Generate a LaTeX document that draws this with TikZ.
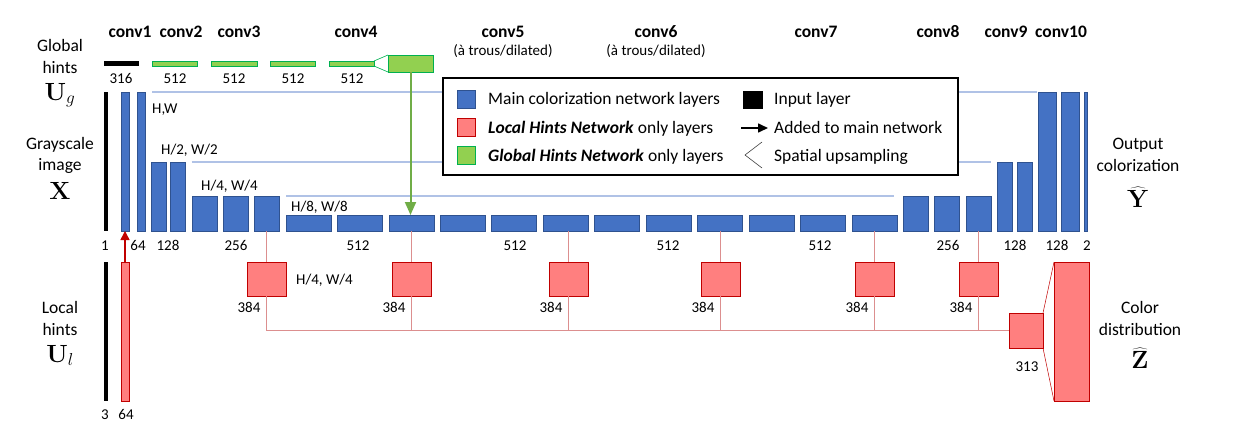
\documentclass[tikz,border=0pt]{standalone}
\usepackage[no-math]{fontspec}
\setmainfont{Carlito}
\usetikzlibrary{arrows.meta}
\definecolor{mainblue}{HTML}{4472C4}
\definecolor{mainblueline}{HTML}{2F528F}
\definecolor{hintred}{HTML}{FF7F7F}
\definecolor{hintredline}{HTML}{C00000}
\definecolor{hintgreen}{HTML}{92D050}
\definecolor{hintgreenline}{HTML}{00B050}
\definecolor{arrowgreen}{HTML}{70AD47}
\definecolor{skipblue}{HTML}{B0C2E6}
\definecolor{linkred}{HTML}{DC8F8F}
\newcommand\mklayer[6]{\node[#2, minimum width={#5-#3}, minimum height={#6-#4}] (#1) at ({(#3+#5)/2},{(#4+#6)/2}) {};}
\tikzset{
  mainlayer/.style={draw=mainblueline, fill=mainblue, line width=0.8pt, inner sep=0pt, outer sep=0pt},
  locallayer/.style={draw=hintredline, fill=hintred, line width=0.9pt, inner sep=0pt, outer sep=0pt},
  globallayer/.style={draw=hintgreenline, fill=hintgreen, line width=0.8pt, inner sep=0pt, outer sep=0pt},
  inputlayer/.style={fill=black, inner sep=0pt, outer sep=0pt},
  skip/.style={draw=skipblue, line width=1.3pt},
  link/.style={draw=linkred, line width=1.2pt},
  num/.style={font=\fontsize{15}{18}\selectfont, anchor=base, inner sep=0pt},
  dimlabel/.style={num, anchor=base west},
  convlabel/.style={font=\fontsize{17.5}{21}\selectfont\bfseries, anchor=base, inner sep=0pt},
  sidelabel/.style={font=\fontsize{17.5}{21}\selectfont, anchor=base, inner sep=0pt},
  mathlabel/.style={font=\fontsize{24}{28}\selectfont, anchor=base, inner sep=0pt},
  legendtext/.style={font=\fontsize{17.5}{21}\selectfont, anchor=base west, inner sep=0pt},
}
\begin{document}
\begin{tikzpicture}[x=1pt, y=-1pt]
\useasboundingbox (0,0) rectangle (1239,434);
% ---------- main network ----------
\mklayer{in1}{inputlayer}{104}{92}{107.5}{231}
\mklayer{b1}{mainlayer}{121}{92}{129}{231}
\mklayer{b2}{mainlayer}{137}{92}{145}{231}
\mklayer{c2a}{mainlayer}{151}{162}{166}{231}
\mklayer{c2b}{mainlayer}{170.5}{162}{185.5}{231}
\mklayer{c3a}{mainlayer}{192}{196}{217}{231}
\mklayer{c3b}{mainlayer}{223}{196}{248}{231}
\mklayer{c3c}{mainlayer}{254}{196}{279}{231}
\foreach \i in {0,...,11}{
  \pgfmathsetmacro\xl{286+51.45*\i}
  \mklayer{m\i}{mainlayer}{\xl}{215}{\xl+45}{231}
}
\mklayer{c8a}{mainlayer}{903}{196}{928}{231}
\mklayer{c8b}{mainlayer}{934.5}{196}{959.5}{231}
\mklayer{c8c}{mainlayer}{966}{196}{991}{231}
\mklayer{c9a}{mainlayer}{997}{162}{1012}{231}
\mklayer{c9b}{mainlayer}{1017}{162}{1032}{231}
\mklayer{c10a}{mainlayer}{1038}{92}{1056}{231}
\mklayer{c10b}{mainlayer}{1061}{92}{1079}{231}
\mklayer{c10c}{mainlayer}{1084.5}{92}{1087.5}{231}
% skip connections
\draw[skip] ([xshift=7pt]b2.north east) -- ([xshift=-1pt]c10a.north west);
\draw[skip] ([xshift=6pt]c2b.north east) -- ([xshift=-6pt]c9a.north west);
\draw[skip] ([xshift=7pt]c3c.north east) -- ([xshift=-9pt]c8a.north west);
% ---------- global hints ----------
\mklayer{gin}{inputlayer}{104}{61}{139}{65.5}
\mklayer{g1}{globallayer}{152}{61}{197}{66}
\mklayer{g2}{globallayer}{211}{61}{257}{66}
\mklayer{g3}{globallayer}{270}{61}{315}{66}
\mklayer{g4}{globallayer}{329}{61}{374}{66}
\mklayer{gbox}{globallayer}{388}{55}{433}{72}
\draw[hintgreenline, line width=0.6pt] (g4.north east) -- (gbox.north west) (g4.south east) -- (gbox.south west);
\draw[arrowgreen, line width=2pt, -{Triangle[length=13pt,width=11pt]}] (gbox.south) -- (gbox.south |- m2.north);
% ---------- local hints ----------
\mklayer{in2}{inputlayer}{104}{262}{107.5}{401}
\mklayer{r0}{locallayer}{121}{262}{129}{401}
\foreach \n/\xl in {1/247,2/392,3/549,4/701,5/855,6/959}{
  \mklayer{sq\n}{locallayer}{\xl}{262}{\xl+39}{296}
}
\mklayer{box313}{locallayer}{1009}{313}{1043}{348}
\mklayer{zbox}{locallayer}{1054}{262}{1089}{401}
\draw[hintredline, line width=1.5pt, -{Triangle[length=9pt,width=9pt]}] (r0.north) -- (b1.south);
\draw[link] (c3c.south) -- (sq1.north);
\draw[link] (sq2.north |- m2.south) -- (sq2.north);
\draw[link] (sq3.north |- m5.south) -- (sq3.north);
\draw[link] (sq4.north |- m8.south) -- (sq4.north);
\draw[link] (sq5.north |- m11.south) -- (sq5.north);
\draw[link] (sq6.north |- c8c.south) -- (sq6.north);
\draw[link] (sq1.south) |- (box313.west);
\foreach \n in {2,...,6}{
  \draw[link] (sq\n.south) -- (sq\n.south |- box313.west);
}
\draw[hintredline, line width=0.5pt] (box313.north east) -- (zbox.north west) (box313.south east) -- (zbox.south west);
% ---------- legend ----------
\node[draw, line width=2pt, fill=white, minimum width=515, minimum height=97, inner sep=0pt] (legend) at (700.5,126.5) {};
\mklayer{lblue}{mainlayer}{457}{90}{475}{108}
\mklayer{lred}{locallayer}{457}{118}{475}{136}
\mklayer{lgreen}{globallayer}{457}{146}{475}{164}
\mklayer{lblack}{inputlayer}{743}{91}{763}{109}
\node[legendtext] (lt1) at (488,104) {Main colorization network layers};
\node[legendtext] (lt2) at (488,133) {\textbf{\textit{Local Hints Network}} only layers};
\node[legendtext] (lt3) at (488,161) {\textbf{\textit{Global Hints Network}} only layers};
\node[legendtext] (lt4) at (774,104) {Input layer};
\node[legendtext] (lt5) at (774,133) {Added to main network};
\node[legendtext] (lt6) at (774,161) {Spatial upsampling};
\coordinate (la) at (741,128);
\coordinate (lb) at (768,128);
\draw[line width=1.6pt, -{Triangle[length=10pt,width=9pt]}] (la) -- (lb);
\coordinate (ua) at (762,142);
\coordinate (ub) at (745,155);
\coordinate (uc) at (762,168);
\draw[line width=0.6pt, black!75] (ua) -- (ub) -- (uc);
% ---------- conv labels ----------
\node[convlabel] (t1) at (130,37) {conv1};
\node[convlabel] (t2) at (181,37) {conv2};
\node[convlabel] (t3) at (239,37) {conv3};
\node[convlabel] (t4) at (356,37) {conv4};
\node[convlabel] (t5) at (503,37) {conv5};
\node[convlabel] (t6) at (656,37) {conv6};
\node[convlabel] (t7) at (816,37) {conv7};
\node[convlabel] (t8) at (938,37) {conv8};
\node[convlabel] (t9) at (1006,37) {conv9};
\node[convlabel] (t10) at (1061,37) {conv10};
\node[num] (d5) at (503,55) {(à trous/dilated)};
\node[num] (d6) at (656,55) {(à trous/dilated)};
% ---------- numbers ----------
\node[num] (ng0) at (121,83) {316};
\node[num] (ng1) at (175,83) {512};
\node[num] (ng2) at (234,83) {512};
\node[num] (ng3) at (293,83) {512};
\node[num] (ng4) at (352,83) {512};
\node[num] (n1) at (105,250) {1};
\node[num] (n2) at (138,250) {64};
\node[num] (n3) at (168,250) {128};
\node[num] (n4) at (236,250) {256};
\node[num] (n5) at (358,250) {512};
\node[num] (n6) at (515,250) {512};
\node[num] (n7) at (668,250) {512};
\node[num] (n8) at (820,250) {512};
\node[num] (n9) at (948,250) {256};
\node[num] (n10) at (1015,250) {128};
\node[num] (n11) at (1057,250) {128};
\node[num] (n12) at (1087,250) {2};
\node[num] (nl1) at (105,419) {3};
\node[num] (nl2) at (126,419) {64};
\foreach \n/\xc in {1/249,2/394,3/551,4/703,5/857,6/961}{
  \node[num] (ns\n) at (\xc,312) {384};
}
\node[num] (n313) at (1027,371) {313};
% ---------- dimension labels ----------
\node[dimlabel] (hw1) at (152,113) {H,W};
\node[dimlabel] (hw2) at (161,154) {H/2, W/2};
\node[dimlabel] (hw4) at (201,190) {H/4, W/4};
\node[dimlabel] (hw8) at (291,211) {H/8, W/8};
\node[dimlabel] (hw4l) at (296,284) {H/4, W/4};
% ---------- side labels ----------
\node[sidelabel] (sg1) at (60,51) {Global};
\node[sidelabel] (sg2) at (60,73) {hints};
\node[mathlabel] (sg3) at (60,100) {$\mathbf{U}_{g}$};
\node[sidelabel] (sx1) at (60,149) {Grayscale};
\node[sidelabel] (sx2) at (60,170) {image};
\node[mathlabel] (sx3) at (60,199) {$\mathbf{X}$};
\node[sidelabel] (sl1) at (60,313) {Local};
\node[sidelabel] (sl2) at (60,335) {hints};
\node[mathlabel] (sl3) at (60,362) {$\mathbf{U}_{l}$};
\node[sidelabel] (so1) at (1138,149) {Output};
\node[sidelabel] (so2) at (1138,171) {colorization};
\node[mathlabel] (so3) at (1138,207) {$\widehat{\mathbf{Y}}$};
\node[sidelabel] (sz1) at (1140,313) {Color};
\node[sidelabel] (sz2) at (1140,335) {distribution};
\node[mathlabel] (sz3) at (1140,368) {$\widehat{\mathbf{Z}}$};
\end{tikzpicture}
\end{document}
